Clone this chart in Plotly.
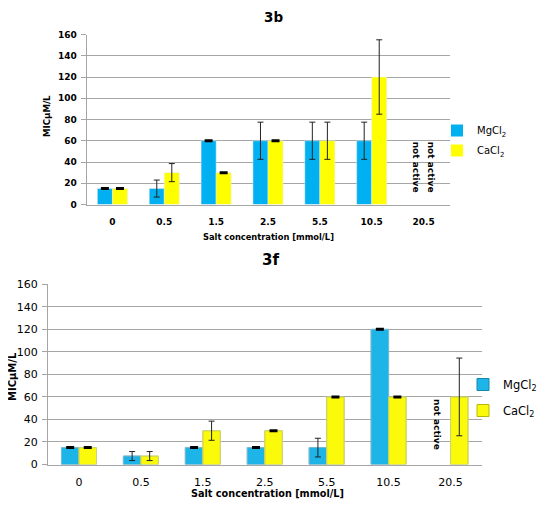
import plotly.graph_objects as go

# categories (salt concentration, mmol/L)
cats = ["0", "0.5", "1.5", "2.5", "5.5", "10.5", "20.5"]

# panel 3b
b_mg = [15, 15, 60, 60, 60, 60, None]
b_mg_err = [0, 8, 0, 17.5, 17.5, 17.5, None]
b_ca = [15, 30, 30, 60, 60, 120, None]
b_ca_err = [0, 8.5, 0, 0, 17.5, 35, None]

# panel 3f
f_mg = [15, 7.5, 15, 15, 15, 120, None]
f_mg_err = [0, 4, 0, 0, 8.3, 0, None]
f_ca = [15, 7.5, 30, 30, 60, 60, 60]
f_ca_err = [0, 4, 8.5, 0, 0, 0, 34.5]

yticks = [0, 20, 40, 60, 80, 100, 120, 140, 160]

BLUE = "#00B0F0"
YELLOW = "#FFFF00"
FONT = "DejaVu Sans"

# page has an 8px body margin, so the figure is a bit smaller than the window
W, H, PAD = 534, 492, 8


def px(x):
    return (x - PAD) / W


def py(y):
    return 1 - (y - PAD) / H


fig = go.Figure()


def add_panel(mg, mg_err, ca, ca_err, xa, ya, leg, w, cols, lines):
    for name, vals, errs, col, off, line in [
        ("MgCl<sub>2</sub>", mg, mg_err, cols[0], -w, lines[0]),
        ("CaCl<sub>2</sub>", ca, ca_err, cols[1], 0, lines[1]),
    ]:
        fig.add_trace(go.Bar(x=cats, y=vals, name=name, marker_color=col,
                             marker_line=line, width=w, offset=off,
                             xaxis=xa, yaxis=ya, legend=leg,
                             legendgroup=leg + name))
        # whiskers
        yw = [v if (e is not None and e > 0) else None for v, e in zip(vals, errs)]
        fig.add_trace(go.Bar(x=cats, y=yw, width=w, offset=off,
                             marker_color="rgba(0,0,0,0)", showlegend=False,
                             error_y=dict(type="data", array=errs, color="#222",
                                          thickness=1, width=3),
                             xaxis=xa, yaxis=ya, hoverinfo="skip"))
        # zero error dashes
        yd = [v if e == 0 else None for v, e in zip(vals, errs)]
        fig.add_trace(go.Bar(x=cats, y=yd, width=w, offset=off,
                             marker_color="rgba(0,0,0,0)", showlegend=False,
                             error_y=dict(type="data", array=[0] * len(cats),
                                          color="black", thickness=3, width=4),
                             xaxis=xa, yaxis=ya, hoverinfo="skip"))


add_panel(b_mg, b_mg_err, b_ca, b_ca_err, "x", "y", "legend", 0.29,
          (BLUE, YELLOW), (dict(width=0), dict(width=0)))
add_panel(f_mg, f_mg_err, f_ca, f_ca_err, "x2", "y2", "legend2", 0.283,
          ("#1DB4E8", "#FAFA0A"),
          (dict(width=1, color="#1488B0"), dict(width=1, color="#B8B800")))

grid = "#A6A6A6"
xcommon = dict(type="category", showgrid=False, showline=True, linecolor=grid,
               ticks="", automargin=False)
ycommon = dict(range=[0, 160], tickvals=yticks, showgrid=True, gridcolor=grid,
               showline=True, linecolor=grid, zeroline=False,
               ticks="outside", ticklen=5, tickcolor=grid, automargin=False)
fig.update_layout(
    width=W, height=H, autosize=False,
    margin=dict(l=0, r=0, t=0, b=0),
    paper_bgcolor="white", plot_bgcolor="white",
    barmode="overlay",
    font=dict(family=FONT, color="black"),
    xaxis=dict(xcommon, domain=[px(86.5), px(449.5)], anchor="y",
               tickfont=dict(size=9, weight="bold"), ticklabelstandoff=9),
    yaxis=dict(ycommon, domain=[py(204.5), py(34.5)], anchor="x",
               tickfont=dict(size=9, weight="bold"), ticklabelstandoff=2),
    xaxis2=dict(xcommon, domain=[px(48), px(481.5)], anchor="y2",
                tickfont=dict(size=11), ticklabelstandoff=7),
    yaxis2=dict(ycommon, domain=[py(464.5), py(284.3)], anchor="x2",
                tickfont=dict(size=11), ticklabelstandoff=2),
    legend=dict(x=px(437), y=py(116), xanchor="left", yanchor="top",
                font=dict(size=10), tracegroupgap=1, itemwidth=30,
                bgcolor="rgba(0,0,0,0)"),
    legend2=dict(x=1, y=py(370), xanchor="right", yanchor="top",
                 font=dict(size=11.5), tracegroupgap=7, itemwidth=30,
                 bgcolor="rgba(0,0,0,0)"),
)

ann = [
    dict(text="<b>3b</b>", x=273, y=17, size=13.5),
    dict(text="<b>3f</b>", x=270, y=260, size=15),
    dict(text="<b>Salt concentration [mmol/L]</b>", x=268, y=237, size=8.3),
    dict(text="<b>Salt concentration [mmol/L]</b>", x=267, y=493, size=9.7),
    dict(text="<b>MICμM/L</b>", x=47, y=116, size=8.6, angle=-90),
    dict(text="<b>MICμM/L</b>", x=12, y=377, size=10, angle=-90),
]
for a in ann:
    fig.add_annotation(text=a["text"], xref="paper", yref="paper",
                       x=px(a["x"]), y=py(a["y"]),
                       xanchor="center", yanchor="middle", showarrow=False,
                       textangle=a.get("angle", 0),
                       font=dict(family=FONT, size=a["size"]))

# "not active" labels at 20.5
for xa, ya, shift in [("x", "y", -7.5), ("x", "y", 7.5), ("x2", "y2", -13)]:
    fig.add_annotation(text="<b>not active</b>", xref=xa, yref=ya,
                       x=cats.index("20.5"), y=35.5, xshift=shift,
                       showarrow=False, textangle=90,
                       xanchor="center", yanchor="middle",
                       font=dict(family=FONT, size=9))

fig.write_html("out.html")
